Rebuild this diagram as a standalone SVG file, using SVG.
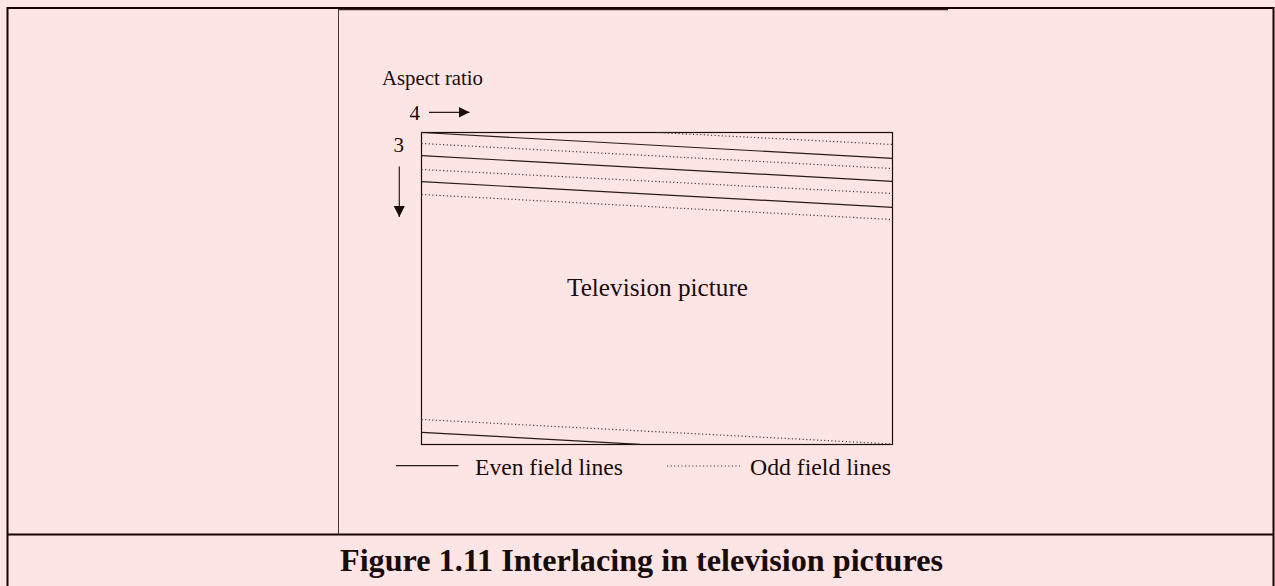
<svg xmlns="http://www.w3.org/2000/svg" width="1275" height="586" viewBox="0 0 1275 586">
<style>
.frame{stroke:#1a0000;stroke-width:2;fill:none}
.thin{stroke:#4a3333;stroke-width:1;fill:none}
.solid{stroke:#2a1a1a;stroke-width:1.2;fill:none}
.dot{stroke:#4a3a3a;stroke-width:1.2;fill:none;stroke-dasharray:1.2 2.4}
.t{font-family:"Liberation Serif","Times New Roman",serif;fill:#1a0a0a}
</style>
<defs>
<marker id="ah" markerWidth="11" markerHeight="11" refX="11" refY="5.5" orient="auto" markerUnits="userSpaceOnUse">
<path d="M0,0 L11,5.5 L0,11 Z" fill="#1a0a0a"/>
</marker>
</defs>
<rect width="1275" height="586" fill="#fde5e5"/>
<g id="frame">
<line class="frame" x1="7" y1="8" x2="1274" y2="8"/>
<line class="frame" x1="7.5" y1="7" x2="7.5" y2="586"/>
<line class="frame" x1="1273.5" y1="7" x2="1273.5" y2="586"/>
<line class="frame" x1="7" y1="534.5" x2="1274" y2="534.5"/>
<line stroke="#3a2020" stroke-width="1.2" x1="338" y1="9.6" x2="948" y2="9.6"/>
<line class="thin" x1="338.5" y1="9" x2="338.5" y2="534"/>
</g>
<g id="picture">
<rect x="421.5" y="132.5" width="471" height="312" fill="none" stroke="#1a0a0a" stroke-width="1.2"/>
<text class="t" x="567" y="296" font-size="25" textLength="181" lengthAdjust="spacingAndGlyphs">Television picture</text>
</g>
<g id="connectors">
<line class="solid" x1="421.5" y1="132.5" x2="892.5" y2="158.3"/>
<line class="solid" x1="421.5" y1="155.7" x2="892.5" y2="181.3"/>
<line class="solid" x1="421.5" y1="181.7" x2="892.5" y2="207.3"/>
<line class="dot" x1="657" y1="132.5" x2="892.5" y2="144.5"/>
<line class="dot" x1="421.5" y1="143.5" x2="892.5" y2="168.5"/>
<line class="dot" x1="421.5" y1="169.5" x2="892.5" y2="193.5"/>
<line class="dot" x1="421.5" y1="194.5" x2="892.5" y2="219.5"/>
<line class="dot" x1="421.5" y1="419.5" x2="892.5" y2="444"/>
<line class="solid" x1="421.5" y1="432.3" x2="640" y2="444.3"/>
<line class="solid" x1="429" y1="112.3" x2="469.5" y2="112.3" marker-end="url(#ah)"/>
<line class="solid" x1="399.3" y1="166.5" x2="399.3" y2="217" marker-end="url(#ah)"/>
</g>
<g id="labels">
<text class="t" x="382" y="85" font-size="21" textLength="101" lengthAdjust="spacingAndGlyphs">Aspect ratio</text>
<text class="t" x="409.5" y="120" font-size="21">4</text>
<text class="t" x="393.5" y="152" font-size="21">3</text>
</g>
<g id="legend">
<line class="solid" x1="396" y1="465.7" x2="458.5" y2="465.7"/>
<text class="t" x="475" y="475" font-size="23.6" textLength="148" lengthAdjust="spacingAndGlyphs">Even field lines</text>
<line class="dot" x1="667" y1="466" x2="741" y2="466"/>
<text class="t" x="750" y="475" font-size="23.6" textLength="141" lengthAdjust="spacingAndGlyphs">Odd field lines</text>
</g>
<g id="caption">
<text class="t" x="340" y="571" font-size="32" font-weight="bold" textLength="603" lengthAdjust="spacingAndGlyphs">Figure 1.11 Interlacing in television pictures</text>
</g>
</svg>
